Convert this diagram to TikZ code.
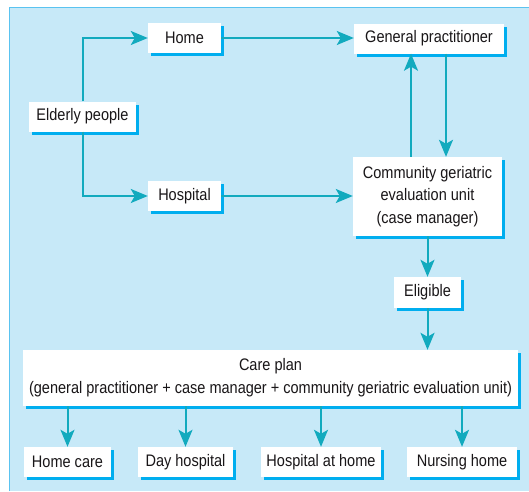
\documentclass[tikz,border=0pt]{standalone}
\usepackage{fontspec}
\setmainfont{Liberation Sans}[FakeStretch=0.87]
\usetikzlibrary{arrows.meta,shadows}
\definecolor{bgblue}{RGB}{199,233,248}
\definecolor{edgeblue}{RGB}{90,195,240}
\definecolor{shadowblue}{RGB}{0,174,239}
\definecolor{arrowteal}{RGB}{18,170,190}
\definecolor{txt}{RGB}{25,22,24}
\tikzset{
  box/.style={fill=white, inner sep=0pt, align=center, text=txt,
    font=\fontsize{16.7}{22.8}\selectfont,
    general shadow={fill=shadowblue, shadow xshift=3pt, shadow yshift=-3pt}},
  flow/.style={draw=arrowteal, line width=2pt,
    -{Stealth[length=17pt, width=14pt, inset=4pt]}}
}
\begin{document}
\begin{tikzpicture}[x=1pt, y=-1pt]
\useasboundingbox (0,0) rectangle (529,491);
\fill[bgblue] (9,7) rectangle (529,491);
\draw[edgeblue, line width=1.2pt] (9.6,491) -- (9.6,7.6) -- (529,7.6);

\node[box, minimum width=73pt, minimum height=30pt] (home) at (184.5,38) {Home};
\node[box, minimum width=107pt, minimum height=30pt] (eld) at (82.5,116.5) {Elderly people};
\node[box, minimum width=73pt, minimum height=30pt] (hosp) at (184.5,196) {Hospital};
\node[box, minimum width=150pt, minimum height=30pt] (gp) at (429,38.5) {General practitioner};
\node[box, minimum width=149pt, minimum height=79pt] (cg) at (427.5,196.5) {Community geriatric\\evaluation unit\\(case manager)};
\node[box, minimum width=67pt, minimum height=31pt] (elig) at (427.5,292.5) {Eligible};
\node[box, minimum width=495pt, minimum height=56pt] (cp) at (270.5,378) {Care plan\\(general practitioner + case manager + community geriatric evaluation unit)};
\node[box, minimum width=87pt, minimum height=30pt] (hc) at (67.5,462) {Home care};
\node[box, minimum width=95pt, minimum height=30pt] (dh) at (185.5,462) {Day hospital};
\node[box, minimum width=120pt, minimum height=30pt] (hah) at (321,462) {Hospital at home};
\node[box, minimum width=110pt, minimum height=30pt] (nh) at (462,462) {Nursing home};

\draw[flow] (eld.north) |- (home.west);
\draw[flow] (eld.south) |- (hosp.west);
\draw[flow] (home.east) -- (gp.west |- home.east);
\draw[flow] (hosp.east) -- (cg.west |- hosp.east);
\draw[flow] ([xshift=-16.5pt]cg.north) -- ([xshift=-16.5pt]cg.north |- gp.south);
\draw[flow] ([xshift=17pt]gp.south) -- ([xshift=17pt]gp.south |- cg.north);
\draw[flow] (cg.south) -- (elig.north);
\draw[flow] (elig.south) -- (elig.south |- cp.north);
\draw[flow] (cp.south -| hc.north) -- (hc.north);
\draw[flow] (cp.south -| dh.north) -- (dh.north);
\draw[flow] (cp.south -| hah.north) -- (hah.north);
\draw[flow] (cp.south -| nh.north) -- (nh.north);
\end{tikzpicture}
\end{document}
